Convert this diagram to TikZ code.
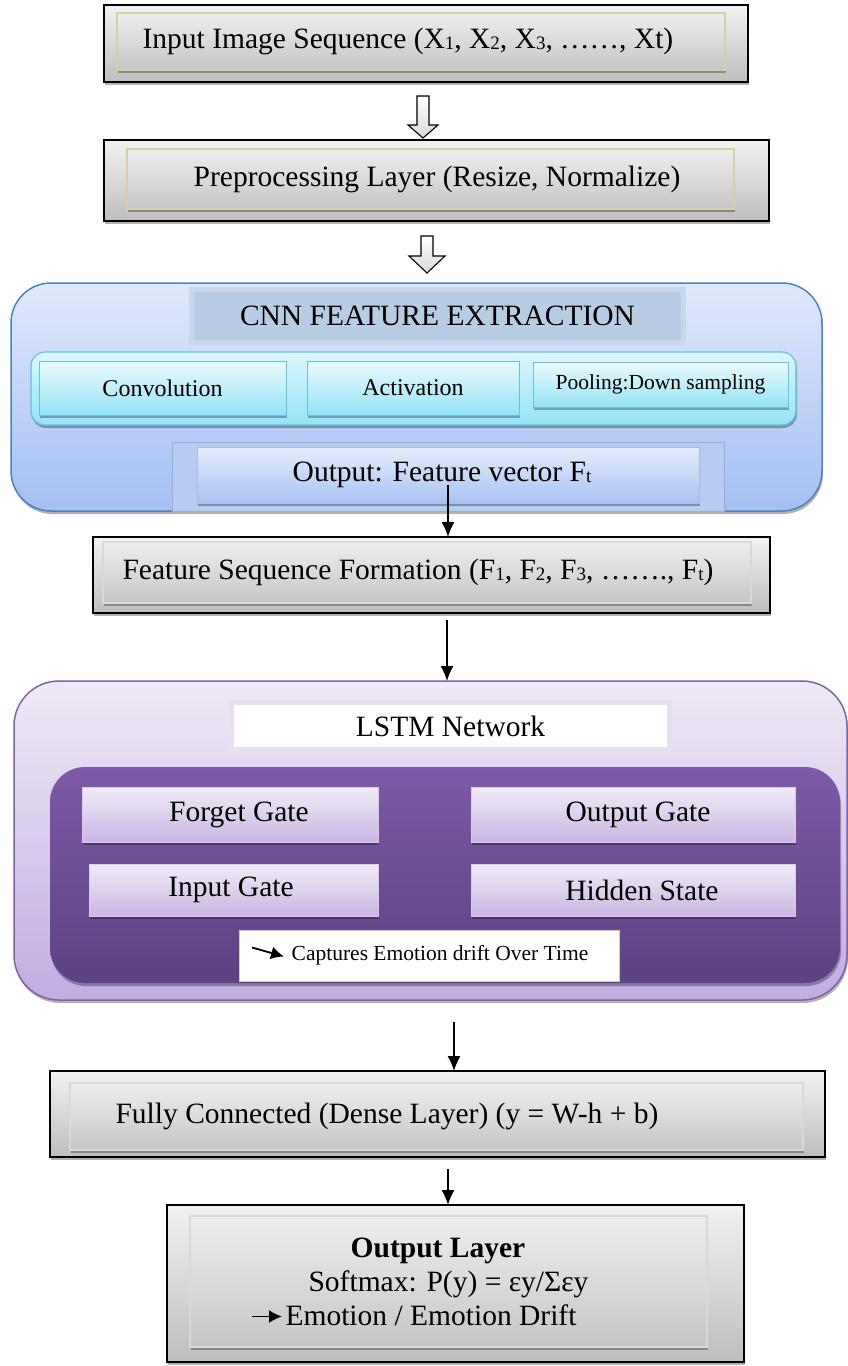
\documentclass[tikz,border=0pt]{standalone}
\usepackage{fontspec}
\setmainfont{Liberation Serif}
\usetikzlibrary{arrows.meta,shadows,calc}

\definecolor{frameT}{HTML}{F2F2F2}
\definecolor{frameB}{HTML}{BEBEBE}
\definecolor{panelT}{HTML}{EEEEEE}
\definecolor{panelB}{HTML}{C6C6C6}
\definecolor{khaki}{HTML}{D6D0A6}
\definecolor{cnnEdge}{HTML}{4F81BD}
\definecolor{cnnT}{HTML}{E0E9FB}
\definecolor{cnnB}{HTML}{A4BFF3}
\definecolor{cnnHead}{HTML}{B8CCE4}
\definecolor{cnnHeadRim}{HTML}{C8D7EB}
\definecolor{cyanT}{HTML}{DDF6FC}
\definecolor{cyanB}{HTML}{96E3F6}
\definecolor{cyanEdge}{HTML}{63C3DA}
\definecolor{featRim}{HTML}{B7CCF2}
\definecolor{featT}{HTML}{E4ECFC}
\definecolor{featB}{HTML}{A9C3F2}
\definecolor{lstmEdge}{HTML}{7F63A3}
\definecolor{lstmT}{HTML}{EFEAF7}
\definecolor{lstmB}{HTML}{C2ACE2}
\definecolor{lstmRim}{HTML}{E6E0EF}
\definecolor{coreT}{HTML}{7E59A7}
\definecolor{coreB}{HTML}{5C4281}
\definecolor{gateT}{HTML}{F1EBF8}
\definecolor{gateB}{HTML}{CAB6E3}
\definecolor{gateEdge}{HTML}{D9CCEA}

\newcommand\bigtxt{\fontsize{29.5}{34}\selectfont}
\newcommand\midtxt{\fontsize{24}{28}\selectfont}
\newcommand\smalltxt{\fontsize{21.5}{25}\selectfont}
\newcommand\lo[1]{\raisebox{-1pt}{\fontsize{19}{19}\selectfont #1}}

\tikzset{
  soft/.style={drop shadow={shadow xshift=1pt, shadow yshift=-3pt, opacity=.3, fill=black}},
  box/.style={rectangle, inner sep=0pt, outer sep=0pt, align=center},
  outerbox/.style={box, draw=black, line width=1.8pt, top color=frameT, bottom color=frameB, soft},
  innerbox/.style={box, draw=#1, line width=1.5pt, top color=panelT, bottom color=panelB, soft},
  innerbox/.default=gray!30,
  cnnwrap/.style={box, draw=cnnEdge, line width=1.5pt, rounded corners=40pt, top color=cnnT, bottom color=cnnB, soft},
  cnnhead/.style={box, draw=cnnHeadRim, line width=5pt, fill=cnnHead},
  cyanrow/.style={box, draw=cyanEdge, line width=1.2pt, rounded corners=14pt, top color=cyanT, bottom color=cyanB, soft},
  cyanbox/.style={box, draw=cyanEdge, line width=1pt, top color=cyanT!60!white, bottom color=cyanB, soft},
  featrim/.style={box, draw=featRim!85!black, line width=.8pt, fill=featRim},
  featbox/.style={box, draw=featRim!80!gray, line width=1pt, top color=featT, bottom color=featB, soft},
  lstmwrap/.style={box, draw=lstmEdge, line width=1.5pt, rounded corners=45pt, top color=lstmT, bottom color=lstmB, soft},
  lstmcore/.style={box, rounded corners=35pt, top color=coreT, bottom color=coreB, soft},
  gatebox/.style={box, draw=gateEdge, line width=1pt, top color=gateT, bottom color=gateB, soft},
  whitebox/.style={box, fill=white},
  hollowarrow/.style={draw=black, line width=1.1pt, line join=miter, top color=white, bottom color=gray!30},
  flow/.style={-{Latex[length=15pt,width=13pt]}, line width=1.3pt},
  smallarr/.style={-{Latex[length=13pt,width=13pt]}, line width=1.8pt}
}

\begin{document}
\begin{tikzpicture}[x=1pt, y=-1pt, font=\bigtxt]
\useasboundingbox (0,0) rectangle (848,1366);

% input and preprocessing
\node[outerbox, minimum width=644, minimum height=77] (in_o) at (426,43.5) {};
\node[innerbox=khaki, minimum width=608, minimum height=57] (in_i) at (421,41.5) {Input Image Sequence (X\lo{1}, X\lo{2}, X\lo{3}, ……, Xt)\hspace*{26pt}};
\node[outerbox, minimum width=665, minimum height=81] (pre_o) at (436.5,180.5) {};
\node[innerbox=khaki, minimum width=607, minimum height=60] (pre_i) at (430.5,179) {\hspace*{13pt}Preprocessing Layer (Resize, Normalize)};

% CNN block
\node[cnnwrap, minimum width=811, minimum height=228] (cnn) at (416.5,397) {};
\node[cnnhead, minimum width=492, minimum height=53] (cnn_t) at (437.5,316) {CNN FEATURE EXTRACTION};
\node[cyanrow, minimum width=765, minimum height=73] (row) at (413.5,388.5) {};
\node[cyanbox, minimum width=247, minimum height=54, font=\midtxt] (conv) at (162.5,388) {Convolution};
\node[cyanbox, minimum width=212, minimum height=54, font=\midtxt] (act) at (413,388) {Activation};
\node[cyanbox, minimum width=255, minimum height=45, font=\smalltxt] (pool) at (660.5,384.5) {Pooling:Down sampling};
\node[featrim, minimum width=552, minimum height=69] (feat_o) at (448,476.5) {};
\node[featbox, minimum width=502, minimum height=56] (feat) at (448,475) {Output: Feature vector F\lo{t}\hspace*{12pt}};

% feature sequence
\node[outerbox, minimum width=677, minimum height=76] (fs_o) at (431.5,575) {};
\node[innerbox, minimum width=648, minimum height=61] (fs_i) at (427,572.5) {Feature Sequence Formation (F\lo{1}, F\lo{2}, F\lo{3}, ……., F\lo{t})\hspace*{18pt}};

% LSTM block
\node[lstmwrap, minimum width=833, minimum height=319] (lstm) at (430.5,840.5) {};
\node[whitebox, draw=lstmRim, line width=5pt, minimum width=438, minimum height=47] (lstm_t) at (450.5,726) {LSTM Network};
\node[lstmcore, minimum width=790, minimum height=216] (core) at (445,875) {};
\node[gatebox, minimum width=296, minimum height=55] (forget) at (230,814.5) {\hspace*{18pt}Forget Gate};
\node[gatebox, minimum width=324, minimum height=55] (outgate) at (633,814.5) {\hspace*{10pt}Output Gate};
\node[gatebox, minimum width=289, minimum height=52] (input) at (233.5,890) {Input Gate\hspace*{5pt}};
\node[gatebox, minimum width=324, minimum height=52] (hidden) at (633,890) {\hspace*{18pt}Hidden State};
\node[whitebox, draw=gray!40, line width=.8pt, minimum width=380, minimum height=51, font=\smalltxt] (cap) at (429,955.5) {\hspace*{22pt}Captures Emotion drift Over Time};
\draw[smallarr] ($(cap.west)+(13,-8)$) -- ($(cap.west)+(45,1)$);

% dense and output
\node[outerbox, minimum width=775, minimum height=86] (fc_o) at (437.5,1114) {};
\node[innerbox, minimum width=733, minimum height=67] (fc_i) at (436.5,1116.5) {Fully Connected (Dense Layer) (y = W-h + b)\hspace*{99pt}};
\node[outerbox, minimum width=577, minimum height=157] (out_o) at (455.5,1283.5) {};
\node[innerbox, minimum width=517, minimum height=131] (out_i) at (448.5,1281.5) {\textbf{Output Layer}\hspace*{21pt}\\ Softmax: P(y) = εy/Σεy\hspace*{35pt}\\ Emotion / Emotion Drift\hspace*{35pt}};
\draw[smallarr] ($(out_i.west)+(62,35)$) -- ($(out_i.west)+(92,35)$);

% block arrows
\foreach \n/\xx/\ya/\yb/\hl/\hw in {1/423/96/138/13/15, 2/427/236/273/17/18}{
  \coordinate (tail\n) at (\xx,\ya);
  \coordinate (tip\n) at (\xx,\yb);
  \draw[hollowarrow] ($(tail\n)+(-6,0)$) -- ($(tail\n)+(6,0)$) -- ($(tip\n)+(6,-\hl)$) -- ($(tip\n)+(\hw,-\hl)$) -- (tip\n) -- ($(tip\n)+(-\hw,-\hl)$) -- ($(tip\n)+(-6,-\hl)$) -- cycle;
}

% thin arrows
\coordinate (s3) at (448,485);
\draw[flow] (s3) -- (s3 |- fs_o.north);
\coordinate (s4) at (447,620);
\draw[flow] (s4) -- (s4 |- lstm.north);
\coordinate (s5) at (454,1022);
\draw[flow] (s5) -- (s5 |- fc_o.north);
\coordinate (s6) at (448,1169);
\draw[flow] (s6) -- (s6 |- out_o.north);
\end{tikzpicture}
\end{document}
